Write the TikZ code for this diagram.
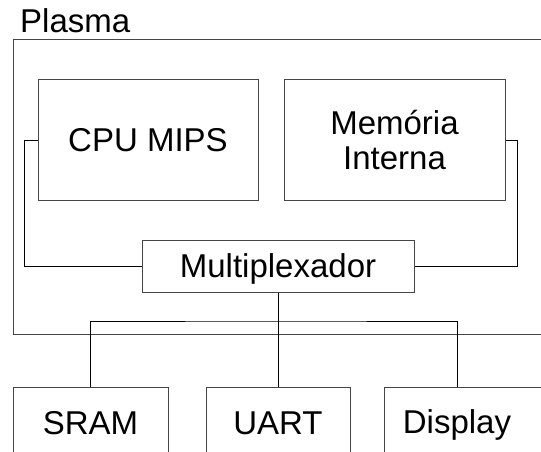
\documentclass[tikz,border=0pt]{standalone}
\usepackage{fontspec}
\setmainfont{Liberation Sans}
\definecolor{boxgray}{RGB}{70,70,70}
\begin{document}
\begin{tikzpicture}[x=1pt,y=-1pt,
  txt/.style={font=\fontsize{33}{35}\selectfont},
  box/.style={draw=boxgray, line width=1pt, inner sep=0pt, txt, align=center},
  onebox/.style={box, text height=23pt, text depth=0pt},
  wire/.style={draw=black, line width=1pt}]
\useasboundingbox (0,0) rectangle (541,452);
\clip (0,0) rectangle (541,452);
% outer block
\node[box, minimum width=547pt, minimum height=294pt] (plasma) at (286.5,187) {};
\node[txt, anchor=base west, inner sep=0pt] (plasmalbl) at (20,33) {Plasma};
% inner blocks
\node[onebox, minimum width=220pt, minimum height=120pt] (cpu) at (148,140) {CPU MIPS};
\node[box, minimum width=221pt, minimum height=120pt] (mem) at (394.5,140) {Memória\\Interna};
\node[onebox, minimum width=272pt, minimum height=52pt] (mux) at (278,266) {Multiplexador};
% peripherals
\node[onebox, minimum width=155pt, minimum height=71pt] (sram) at (90.5,422.5) {SRAM};
\node[onebox, minimum width=144pt, minimum height=71pt] (uart) at (278,422.5) {UART};
\node[draw=boxgray, line width=1pt, minimum width=176pt, minimum height=71pt, inner sep=0pt] (display) at (472,422.5) {};
\node[txt, inner sep=0pt, anchor=base] (displaytxt) at (457,433) {Display};
% wires
\coordinate (bus) at (278,321);
\coordinate (ddrop) at (457,387);
\draw[wire] (cpu.west) -- ++(-13,0) |- (mux.west);
\draw[wire] (mem.east) -- ++(12,0) |- (mux.east);
\draw[wire] (mux.south) -- (uart.north);
\draw[wire] (sram.north) |- (bus) -| (ddrop);
\end{tikzpicture}
\end{document}
